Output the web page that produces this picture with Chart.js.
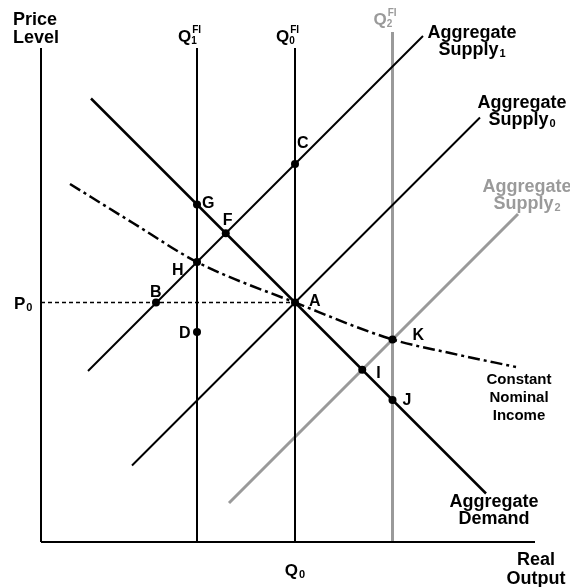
<!DOCTYPE html>
<html>
<head>
<meta charset="utf-8">
<script src="https://cdn.jsdelivr.net/npm/chart.js@4"></script>
<style>
    body { margin: 0; background: #fff; }
</style>
</head>
<body>
<canvas id="asChart" width="570" height="587"></canvas>
<script>
// Curve end points (real output, price level)
const adX = [10, 89];
const adY = [88.7, 9.7];
const as1X = [9.4, 76.4];
const as1Y = [34.2, 101.2];
const as0X = [18.2, 87.8];
const as0Y = [15.3, 84.9];
const as2X = [37.6, 95.4];
const as2Y = [7.8, 65.6];

// Constant nominal income curve
const cniX = [5.8, 18.4, 31.2, 50.8, 70.3, 81.8, 95];
const cniY = [71.6, 63.8, 56, 47.9, 40.5, 37.8, 35];

// Full-information output levels Q1, Q0, Q2 and how high their lines go
const fiNames = ["1", "0", "2"];
const fiQ = [31.2, 50.8, 70.3];
const fiTop = [98.8, 98.8, 102];

// Price level P0
const p0 = 47.9;

// Labelled points
const pointNames = ["G", "F", "C", "H", "B", "A", "D", "K", "I", "J"];
const pointX = [31.2, 36.95, 50.8, 31.2, 23, 50.8, 31.2, 70.3, 64.25, 70.3];
const pointY = [67.5, 61.75, 75.6, 56, 47.9, 47.9, 42, 40.5, 34.45, 28.4];

const GRAY = "#9a9a9a";
const FONT = "'Liberation Sans', Arial, sans-serif";

function toPts(xs, ys) {
    return xs.map((x, i) => ({ x: x, y: ys[i] }));
}

function lineSet(xs, ys, color, width, extra) {
    return Object.assign({
        data: toPts(xs, ys),
        showLine: true,
        borderColor: color,
        borderWidth: width,
        pointRadius: 0,
        fill: false,
        clip: false
    }, extra || {});
}

const datasets = [];

// points first so they sit on top of every line
datasets.push({
    data: toPts(pointX, pointY),
    showLine: false,
    pointRadius: 4,
    pointBackgroundColor: "#000",
    pointBorderColor: "#000",
    pointBorderWidth: 0,
    clip: false
});

// constant nominal income
datasets.push(lineSet(cniX, cniY, "#000", 2.5, {
    borderDash: [12, 4, 3, 4],
    cubicInterpolationMode: "monotone"
}));

// demand and supply
datasets.push(lineSet(adX, adY, "#000", 2.5));
datasets.push(lineSet(as0X, as0Y, "#000", 2));
datasets.push(lineSet(as1X, as1Y, "#000", 2));

// axes
datasets.push(lineSet([0, 0], [0, 98.8], "#000", 2));
datasets.push(lineSet([0, 98.8], [0, 0], "#000", 2));

// P0 dotted guide
datasets.push(lineSet([0, pointX[5]], [p0, p0], "#000", 1.5, { borderDash: [4, 3] }));

// full-information verticals
fiQ.forEach((q, i) => {
    const col = i === 2 ? GRAY : "#000";
    datasets.push(lineSet([q, q], [0, fiTop[i]], col, i === 2 ? 3 : 2));
});

datasets.push(lineSet(as2X, as2Y, GRAY, 3));

// label offsets from each point, in pixels
const pointLabelOffset = {
    G: [5, 3], F: [-3, -8], C: [2, -16], H: [-25, 13], B: [-6, -6],
    A: [14, 3], D: [-18, 6], K: [20, 0], I: [14, 8], J: [10, 5]
};

function subText(ctx, main, sub, x, y, size, align) {
    ctx.font = "bold " + size + "px " + FONT;
    const w1 = ctx.measureText(main).width;
    ctx.font = "bold " + Math.round(size * 0.62) + "px " + FONT;
    const w2 = ctx.measureText(sub).width;
    let left = x;
    if (align === "center") left = x - (w1 + w2 + 1) / 2;
    ctx.font = "bold " + size + "px " + FONT;
    ctx.fillText(main, left, y);
    ctx.font = "bold " + Math.round(size * 0.62) + "px " + FONT;
    ctx.fillText(sub, left + w1 + 1, y + 2);
}

const labelPlugin = {
    id: "labels",
    afterDatasetsDraw(chart) {
        const ctx = chart.ctx;
        const xs = chart.scales.x, ys = chart.scales.y;
        ctx.save();
        ctx.textAlign = "left";
        ctx.textBaseline = "alphabetic";
        ctx.fillStyle = "#000";

        // point letters
        ctx.font = "bold 16px " + FONT;
        pointNames.forEach((n, i) => {
            const off = pointLabelOffset[n];
            ctx.fillText(n, xs.getPixelForValue(pointX[i]) + off[0], ys.getPixelForValue(pointY[i]) + off[1]);
        });

        // axis titles
        ctx.font = "bold 18px " + FONT;
        ctx.fillText("Price", 13, 25);
        ctx.fillText("Level", 13, 43);
        ctx.textAlign = "center";
        ctx.fillText("Real", 536, 565);
        ctx.fillText("Output", 536, 584);
        ctx.textAlign = "left";

        // P0 and Q0 on the axes
        subText(ctx, "P", "0", 14, ys.getPixelForValue(p0) + 6, 17, "left");
        subText(ctx, "Q", "0", xs.getPixelForValue(fiQ[1]), 576, 17, "center");

        // Q^FI labels on top of the verticals
        fiQ.forEach((q, i) => {
            const px = xs.getPixelForValue(q);
            const base = i === 2 ? 25 : 42;
            ctx.fillStyle = i === 2 ? GRAY : "#000";
            ctx.font = "bold 17px " + FONT;
            const left = px - 19;
            ctx.fillText("Q", left, base);
            const qw = ctx.measureText("Q").width;
            ctx.font = "bold 10px " + FONT;
            ctx.fillText(fiNames[i], left + qw, base + 2);
            ctx.fillText("FI", left + qw + 1, base - 9);
        });

        // curve labels
        function twoLine(l1, l2, sub, cx, b1, b2, color) {
            ctx.fillStyle = color;
            ctx.textAlign = "center";
            ctx.font = "bold 18px " + FONT;
            ctx.fillText(l1, cx, b1);
            ctx.textAlign = "left";
            if (sub) subText(ctx, l2, sub, cx, b2, 18, "center");
            else {
                ctx.textAlign = "center";
                ctx.fillText(l2, cx, b2);
                ctx.textAlign = "left";
            }
        }
        twoLine("Aggregate", "Supply", "1", 472, 38, 55, "#000");
        twoLine("Aggregate", "Supply", "0", 522, 108, 125, "#000");
        twoLine("Aggregate", "Supply", "2", 527, 192, 209, GRAY);
        twoLine("Aggregate", "Demand", null, 494, 507, 524, "#000");

        ctx.fillStyle = "#000";
        ctx.textAlign = "center";
        ctx.font = "bold 15px " + FONT;
        ctx.fillText("Constant", 519, 384);
        ctx.fillText("Nominal", 519, 402);
        ctx.fillText("Income", 519, 420);
        ctx.restore();
    }
};

new Chart(document.getElementById("asChart"), {
    type: "scatter",
    data: { datasets: datasets },
    options: {
        responsive: false,
        animation: false,
        devicePixelRatio: 1,
        layout: { padding: { left: 41, right: 35, top: 32, bottom: 45 } },
        scales: {
            x: { type: "linear", min: 0, max: 98.8, display: false },
            y: { type: "linear", min: 0, max: 102, display: false }
        },
        plugins: {
            legend: { display: false },
            tooltip: { enabled: false }
        }
    },
    plugins: [labelPlugin]
});
</script>
</body>
</html>
